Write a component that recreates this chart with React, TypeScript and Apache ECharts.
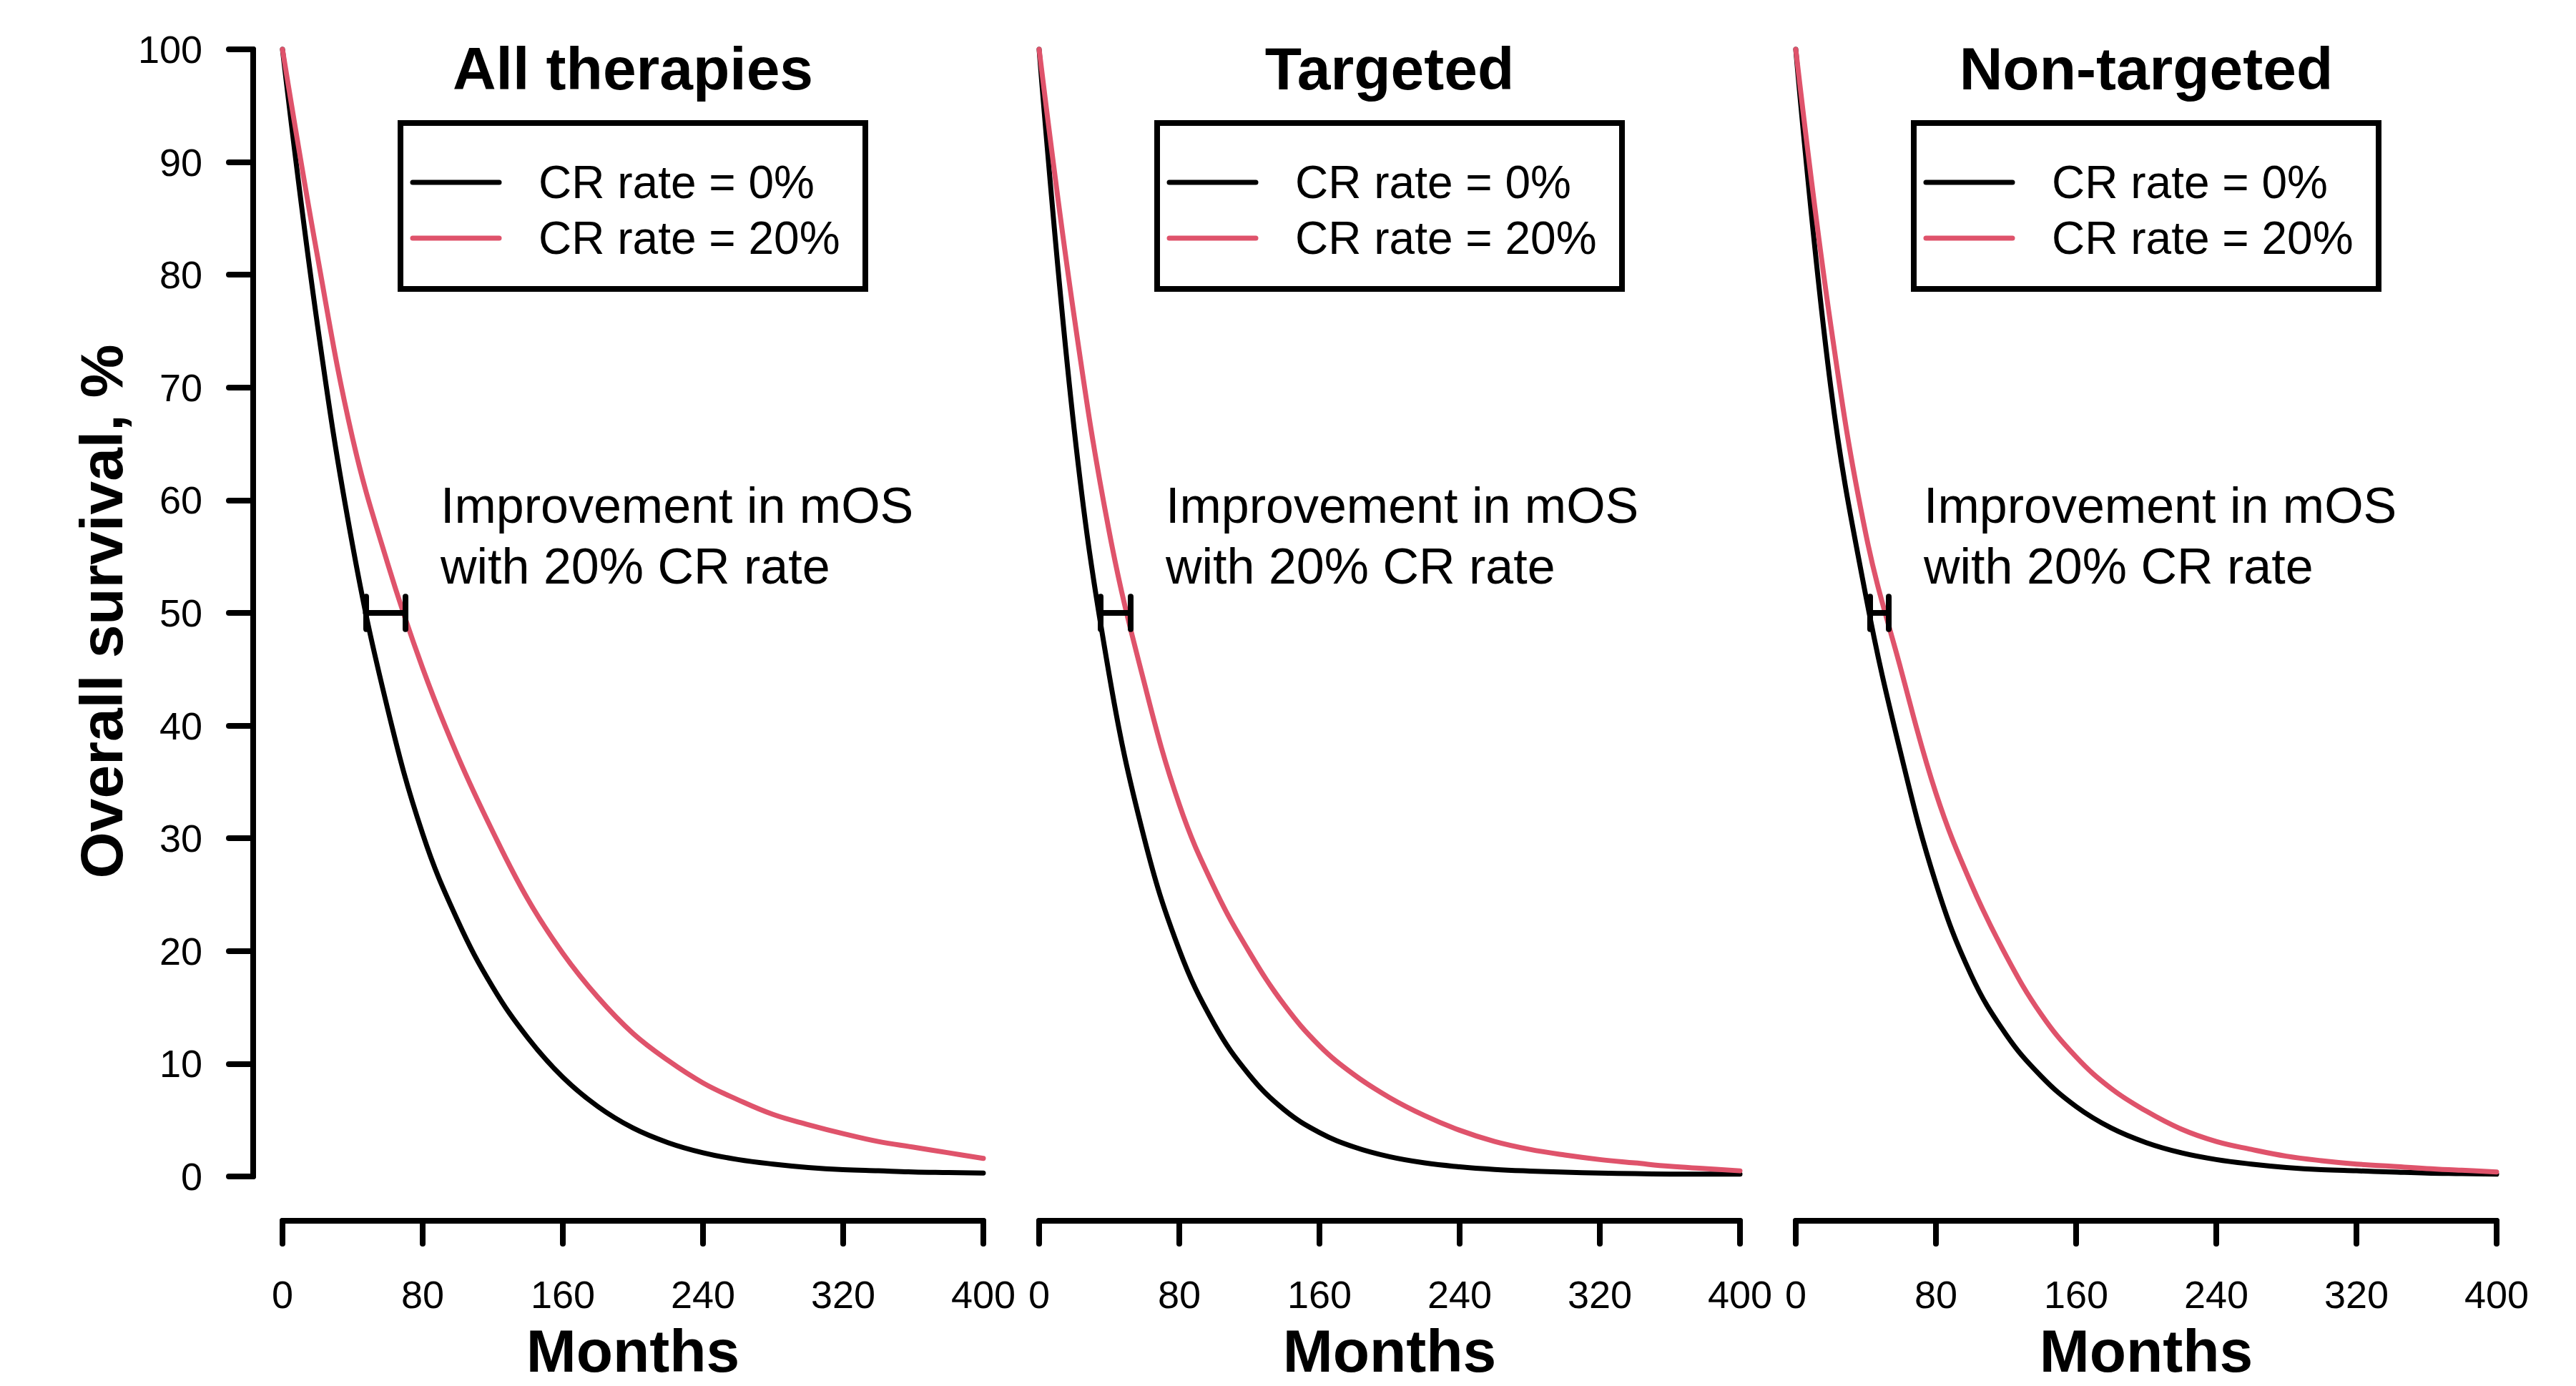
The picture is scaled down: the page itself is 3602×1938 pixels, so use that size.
import React, { useEffect, useRef } from "react";
import * as echarts from "echarts";

// ---------- DATA ----------
const panelTitles = ["All therapies", "Targeted", "Non-targeted"];
const months = [0, 20, 40, 60, 80, 100, 120, 140, 160, 180, 200, 220, 240, 260, 280, 300, 320, 340, 360, 380, 400];

const allCR0 = [100, 75.5, 56, 41.5, 30.4, 22.7, 16.8, 12.3, 8.8, 6.2, 4.3, 3.0, 2.1, 1.5, 1.1, 0.8, 0.6, 0.5, 0.4, 0.35, 0.3];
const allCR20 = [100, 81.6, 65.5, 54.4, 45.1, 37.3, 30.6, 24.6, 19.8, 15.9, 12.7, 10.3, 8.3, 6.8, 5.5, 4.6, 3.8, 3.1, 2.6, 2.1, 1.6];
const targCR0 = [100, 66.3, 44.5, 30, 20.1, 13.5, 9, 5.9, 3.9, 2.6, 1.75, 1.2, 0.85, 0.62, 0.48, 0.38, 0.3, 0.25, 0.21, 0.2, 0.2];
const targCR20 = [100, 76.3, 57.2, 43.8, 33, 25.6, 19.9, 15.2, 11.6, 9, 7, 5.4, 4.1, 3.1, 2.4, 1.9, 1.5, 1.2, 0.9, 0.7, 0.5];
const nonCR0 = [100, 70, 51.5, 37.5, 26, 17.9, 12.6, 8.9, 6.2, 4.3, 3.0, 2.1, 1.5, 1.1, 0.8, 0.6, 0.5, 0.4, 0.3, 0.25, 0.2];
const nonCR20 = [100, 75.5, 57, 45, 34, 26, 19.6, 14.4, 10.6, 7.8, 5.8, 4.2, 3.1, 2.4, 1.8, 1.4, 1.1, 0.9, 0.7, 0.55, 0.4];

const medianCR0 = [47.5, 35, 42.5];
const medianCR20 = [70, 52, 53];
const medianLevel = 50;

const legendLabels = ["CR rate = 0%", "CR rate = 20%"];
const annotationLines = ["Improvement in mOS", "with 20% CR rate"];
const xLabel = "Months";
const yLabel = "Overall survival, %";

const cr0Series = [allCR0, targCR0, nonCR0];
const cr20Series = [allCR20, targCR20, nonCR20];

// ---------- STYLE / LAYOUT ----------
const W = 3602;
const H = 1938;
const PL = [395, 1453, 2511];
const PW = 980;
const PT = 69;
const PH = 1576;
const ANN_X = [221, 177, 179];
const FONT = '"Liberation Sans", Arial, Helvetica, sans-serif';
const BLACK = "#000000";
const RED = "#DF536B";
const CAP = 1.45;
const CURVE_W = 7;
const AXIS_W = 8;

function buildOption() {
  const grid = PL.map((l) => ({ left: l, top: PT, width: PW, height: PH, containLabel: false }));
  const xAxis = PL.map((_, i) => ({
    type: "value",
    gridIndex: i,
    min: 0,
    max: 400,
    interval: 80,
    offset: 62,
    axisLine: { show: true, onZero: false, lineStyle: { color: BLACK, width: AXIS_W, cap: "round" } },
    axisTick: { show: true, length: 32, lineStyle: { color: BLACK, width: AXIS_W, cap: "round" } },
    axisLabel: { color: BLACK, fontSize: 54, fontFamily: FONT, margin: 76 },
    splitLine: { show: false },
  }));
  const yAxis = PL.map((_, i) => ({
    type: "value",
    gridIndex: i,
    min: 0,
    max: 100,
    interval: 10,
    show: i === 0,
    offset: 41,
    axisLine: { show: true, onZero: false, lineStyle: { color: BLACK, width: AXIS_W, cap: "round" } },
    axisTick: { show: true, length: 34, lineStyle: { color: BLACK, width: AXIS_W, cap: "round" } },
    axisLabel: { color: BLACK, fontSize: 54, fontFamily: FONT, margin: 71 },
    splitLine: { show: false },
  }));

  const series: any[] = [];
  PL.forEach((_, i) => {
    series.push({
      type: "line",
      name: legendLabels[0],
      xAxisIndex: i,
      yAxisIndex: i,
      data: months.map((m, j) => [m, cr0Series[i][j]]),
      smooth: 0.4,
      showSymbol: false,
      symbol: "none",
      clip: false,
      silent: true,
      z: 3,
      lineStyle: { color: BLACK, width: CURVE_W, cap: "round", join: "round" },
    });
    series.push({
      type: "line",
      name: legendLabels[1],
      xAxisIndex: i,
      yAxisIndex: i,
      data: months.map((m, j) => [m, cr20Series[i][j]]),
      smooth: 0.4,
      showSymbol: false,
      symbol: "none",
      clip: false,
      silent: true,
      z: 4,
      lineStyle: { color: RED, width: CURVE_W, cap: "round", join: "round" },
    });
    const L = medianCR0[i];
    const R = medianCR20[i];
    series.push({
      type: "lines",
      coordinateSystem: "cartesian2d",
      xAxisIndex: i,
      yAxisIndex: i,
      silent: true,
      z: 5,
      symbol: ["none", "none"],
      lineStyle: { color: BLACK, width: 8, opacity: 1, cap: "round" },
      data: [
        { coords: [[L, medianLevel], [R, medianLevel]] },
        { coords: [[L, medianLevel - CAP], [L, medianLevel + CAP]] },
        { coords: [[R, medianLevel - CAP], [R, medianLevel + CAP]] },
      ],
    });
  });

  const graphic: any[] = [];
  PL.forEach((l, i) => {
    const cx = l + PW / 2;
    graphic.push({
      type: "text",
      x: cx,
      y: 96,
      style: { text: panelTitles[i], fontSize: 84, fontWeight: "bold", fontFamily: FONT, fill: BLACK, align: "center", verticalAlign: "middle" },
    });
    graphic.push({
      type: "text",
      x: cx,
      y: 1889,
      style: { text: xLabel, fontSize: 84, fontWeight: "bold", fontFamily: FONT, fill: BLACK, align: "center", verticalAlign: "middle" },
    });
    annotationLines.forEach((t, k) => {
      graphic.push({
        type: "text",
        x: l + ANN_X[i],
        y: 707 + k * 85,
        style: { text: t, fontSize: 70, fontFamily: FONT, fill: BLACK, align: "left", verticalAlign: "middle" },
      });
    });
    graphic.push({
      type: "rect",
      shape: { x: l + 165, y: 172, width: 650, height: 232 },
      style: { fill: "none", stroke: BLACK, lineWidth: AXIS_W },
    });
    [BLACK, RED].forEach((c, k) => {
      const y = 255 + k * 78;
      graphic.push({
        type: "line",
        shape: { x1: l + 182, y1: y, x2: l + 303, y2: y },
        style: { stroke: c, lineWidth: CURVE_W, lineCap: "round" },
      });
      graphic.push({
        type: "text",
        x: l + 358,
        y: y,
        style: { text: legendLabels[k], fontSize: 64, fontFamily: FONT, fill: BLACK, align: "left", verticalAlign: "middle" },
      });
    });
  });
  graphic.push({
    type: "text",
    x: 142,
    y: 855,
    rotation: Math.PI / 2,
    style: { text: yLabel, fontSize: 84, fontWeight: "bold", fontFamily: FONT, fill: BLACK, align: "center", verticalAlign: "middle" },
  });

  return {
    animation: false,
    backgroundColor: "#ffffff",
    grid,
    xAxis,
    yAxis,
    series,
    graphic,
  };
}

export default function App() {
  const ref = useRef<HTMLDivElement>(null);
  useEffect(() => {
    if (!ref.current) return;
    const chart = echarts.init(ref.current, null, { renderer: "svg", width: W, height: H });
    chart.setOption(buildOption() as any);
    return () => chart.dispose();
  }, []);
  return (
    <div
      ref={ref}
      style={{ position: "fixed", left: 0, top: 0, width: W, height: H, background: "#fff" }}
    />
  );
}
